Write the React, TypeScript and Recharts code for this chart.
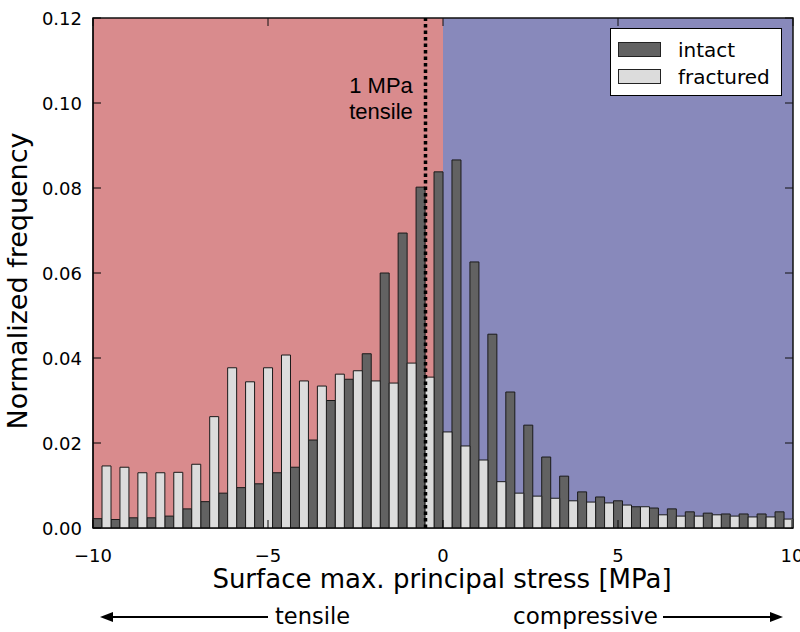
import React from "react";
import {
  BarChart,
  Bar,
  XAxis,
  YAxis,
  Legend,
  ReferenceArea,
  ReferenceLine,
} from "recharts";

// 39 histogram bins spanning -10..10 MPa (bin centres)
const binCenters = [
  -9.744, -9.231, -8.718, -8.205, -7.692, -7.179, -6.667, -6.154, -5.641, -5.128,
  -4.615, -4.103, -3.59, -3.077, -2.564, -2.051, -1.538, -1.026, -0.513, 0.0,
  0.513, 1.026, 1.538, 2.051, 2.564, 3.077, 3.59, 4.103, 4.615, 5.128,
  5.641, 6.154, 6.667, 7.179, 7.692, 8.205, 8.718, 9.231, 9.744,
];

const intact = [
  0.0022, 0.002, 0.0024, 0.0024, 0.0028, 0.0045, 0.0062, 0.0082, 0.0095, 0.0104,
  0.013, 0.0143, 0.0207, 0.03, 0.035, 0.041, 0.06, 0.0694, 0.0802, 0.0838,
  0.0866, 0.0626, 0.0456, 0.032, 0.0242, 0.0167, 0.0122, 0.0085, 0.0073, 0.0064,
  0.005, 0.0047, 0.0045, 0.0038, 0.0035, 0.0033, 0.0033, 0.0033, 0.0038,
];

const fractured = [
  0.0146, 0.0143, 0.013, 0.013, 0.0131, 0.015, 0.0262, 0.0377, 0.0344, 0.0377,
  0.0407, 0.0346, 0.0334, 0.0362, 0.037, 0.0346, 0.0341, 0.0388, 0.0355, 0.0226,
  0.0193, 0.016, 0.0109, 0.0082, 0.0075, 0.007, 0.0064, 0.0061, 0.0059, 0.0054,
  0.005, 0.0031, 0.0028, 0.0028, 0.0031, 0.0028, 0.0026, 0.0026, 0.0021,
];

const seriesNames = ["intact", "fractured"];
const xTicks = [-10, -5, 0, 5, 10];
const yTicks = [0, 0.02, 0.04, 0.06, 0.08, 0.1, 0.12];
const X_MIN = -10;
const X_MAX = 10;
const Y_MAX = 0.12;
const thresholdMPa = -0.5;

const data = binCenters.map((b, i) => ({
  bin: b,
  intact: intact[i],
  fractured: fractured[i],
}));

// layout
const W = 800;
const H = 632;
const PLOT = { left: 93, top: 18, right: 793, bottom: 528 };
const Y_AXIS_W = 60;
const X_AXIS_H = 30;

const TICK_FONT = "'DejaVu Sans', sans-serif";
const LABEL_FONT = "'DejaVu Sans', sans-serif";
const ANNOT_FONT = "'Liberation Sans', Arial, sans-serif";

const TICK_LEN = 8;

function fmtX(v: number) {
  return v < 0 ? `\u2212${Math.abs(v)}` : `${v}`;
}

function BottomTick(props: any) {
  const { x, y, payload } = props;
  return (
    <g>
      <line x1={x} y1={y} x2={x} y2={y - TICK_LEN} stroke="#000" />
      <text
        x={x}
        y={y + 34}
        textAnchor="middle"
        fontSize={18}
        fontFamily={TICK_FONT}
        fill="#000"
      >
        {fmtX(payload.value)}
      </text>
    </g>
  );
}

function LeftTick(props: any) {
  const { x, y, payload } = props;
  return (
    <g>
      <line x1={x} y1={y} x2={x + TICK_LEN} y2={y} stroke="#000" />
      <text
        x={x - 11}
        y={y + 7}
        textAnchor="end"
        fontSize={18}
        fontFamily={TICK_FONT}
        fill="#000"
      >
        {payload.value.toFixed(2)}
      </text>
    </g>
  );
}

function LegendBox({ payload }: any) {
  const items = seriesNames
    .map((n) => (payload || []).find((p: any) => p.value === n))
    .filter(Boolean);
  return (
    <div
      style={{
        border: "1px solid #000",
        background: "#fff",
        padding: "7px 0 6px 7px",
        boxSizing: "border-box",
        height: 68,
        width: 172,
      }}
    >
      {items.map((p: any) => (
        <div
          key={p.value}
          style={{ display: "flex", alignItems: "center", height: 27 }}
        >
          <div
            style={{
              width: 41,
              height: 13,
              background: p.color,
              border: "1.5px solid #222",
              marginRight: 17,
            }}
          />
          <span style={{ fontFamily: TICK_FONT, fontSize: 20, color: "#000" }}>
            {p.value}
          </span>
        </div>
      ))}
    </div>
  );
}

function Annotations() {
  // matplotlib-style box with mirrored inward ticks on top / right
  const pw = PLOT.right - PLOT.left;
  const ph = PLOT.bottom - PLOT.top;
  const px = (v: number) => PLOT.left + ((v - X_MIN) / (X_MAX - X_MIN)) * pw;
  const py = (v: number) => PLOT.bottom - (v / Y_MAX) * ph;
  return (
    <g>
      <path
        d={`M${PLOT.left},${PLOT.top} H${PLOT.right} V${PLOT.bottom} H${PLOT.left} Z`}
        fill="none"
        stroke="#111"
        strokeWidth={1.5}
      />
      {xTicks.map((t) => (
        <path
          key={`tx${t}`}
          d={`M${px(t)},${PLOT.top} V${PLOT.top + TICK_LEN}`}
          stroke="#111"
          strokeWidth={1}
        />
      ))}
      {yTicks.map((t) => (
        <path
          key={`ty${t}`}
          d={`M${PLOT.right},${py(t)} H${PLOT.right - TICK_LEN}`}
          stroke="#111"
          strokeWidth={1}
        />
      ))}

      <text
        x={381}
        y={93}
        textAnchor="middle"
        fontSize={22}
        fontFamily={ANNOT_FONT}
        fill="#000"
      >
        1 MPa
      </text>
      <text
        x={381}
        y={119}
        textAnchor="middle"
        fontSize={22}
        fontFamily={ANNOT_FONT}
        fill="#000"
      >
        tensile
      </text>

      {/* axis titles */}
      <text
        x={442}
        y={588}
        textAnchor="middle"
        fontSize={26}
        fontFamily={LABEL_FONT}
        fill="#000"
      >
        Surface max. principal stress [MPa]
      </text>
      <text
        transform="translate(27,281) rotate(-90)"
        textAnchor="middle"
        fontSize={27}
        fontFamily={LABEL_FONT}
        fill="#000"
      >
        Normalized frequency
      </text>

      {/* tensile / compressive arrows */}
      <line x1={268} y1={617} x2={108} y2={617} stroke="#000" strokeWidth={2} />
      <polygon points="100,617 113,612 113,622" fill="#000" />
      <text x={275} y={624} fontSize={22.5} fontFamily={LABEL_FONT} fill="#000">
        tensile
      </text>
      <text
        x={658}
        y={624}
        textAnchor="end"
        fontSize={23}
        fontFamily={LABEL_FONT}
        fill="#000"
      >
        compressive
      </text>
      <line x1={663} y1={617} x2={775} y2={617} stroke="#000" strokeWidth={2} />
      <polygon points="783,617 770,612 770,622" fill="#000" />
    </g>
  );
}

export default function App() {
  return (
    <div style={{ position: "absolute", left: 0, top: 0, background: "#fff" }}>
      <BarChart
        width={W}
        height={H}
        data={data}
        margin={{
          top: PLOT.top,
          right: W - PLOT.right,
          bottom: H - PLOT.bottom - X_AXIS_H,
          left: PLOT.left - Y_AXIS_W,
        }}
        barCategoryGap={0}
        barGap={0}
      >
        <ReferenceArea
          xAxisId="num"
          yAxisId="left"
          x1={X_MIN}
          x2={0}
          fill="#d98b8d"
          fillOpacity={1}
          stroke="none"
          zIndex={-100}
        />
        <ReferenceArea
          xAxisId="num"
          yAxisId="left"
          x1={0}
          x2={X_MAX}
          fill="#8889bb"
          fillOpacity={1}
          stroke="none"
          zIndex={-100}
        />

        <Bar
          xAxisId="cat"
          yAxisId="left"
          dataKey="intact"
          name="intact"
          fill="#626262"
          stroke="#1a1a1a"
          strokeWidth={1}
          isAnimationActive={false}
        />
        <Bar
          xAxisId="cat"
          yAxisId="left"
          dataKey="fractured"
          name="fractured"
          fill="#dcdcdc"
          stroke="#1a1a1a"
          strokeWidth={1}
          isAnimationActive={false}
        />

        <ReferenceLine
          xAxisId="num"
          yAxisId="left"
          x={thresholdMPa}
          stroke="#000"
          strokeWidth={3.5}
          strokeDasharray="3.5 3"
        />

        <XAxis
          xAxisId="cat"
          dataKey="bin"
          hide
          height={0}
          padding={{ left: 0, right: 0 }}
        />
        <XAxis
          xAxisId="num"
          dataKey="bin"
          type="number"
          domain={[X_MIN, X_MAX]}
          ticks={xTicks}
          allowDataOverflow
          height={X_AXIS_H}
          tickSize={0}
          tickMargin={0}
          axisLine={{ stroke: "#000" }}
          tickLine={false}
          tick={<BottomTick />}
        />
        <YAxis
          yAxisId="left"
          domain={[0, Y_MAX]}
          ticks={yTicks}
          allowDataOverflow
          width={Y_AXIS_W}
          tickSize={0}
          tickMargin={0}
          axisLine={{ stroke: "#000" }}
          tickLine={false}
          tick={<LeftTick />}
        />

        <Legend
          layout="horizontal"
          verticalAlign="middle"
          align="center"
          wrapperStyle={{ position: "absolute", left: 610, top: 28, width: 172 }}
          content={<LegendBox />}
        />

        <Annotations />
      </BarChart>
    </div>
  );
}
